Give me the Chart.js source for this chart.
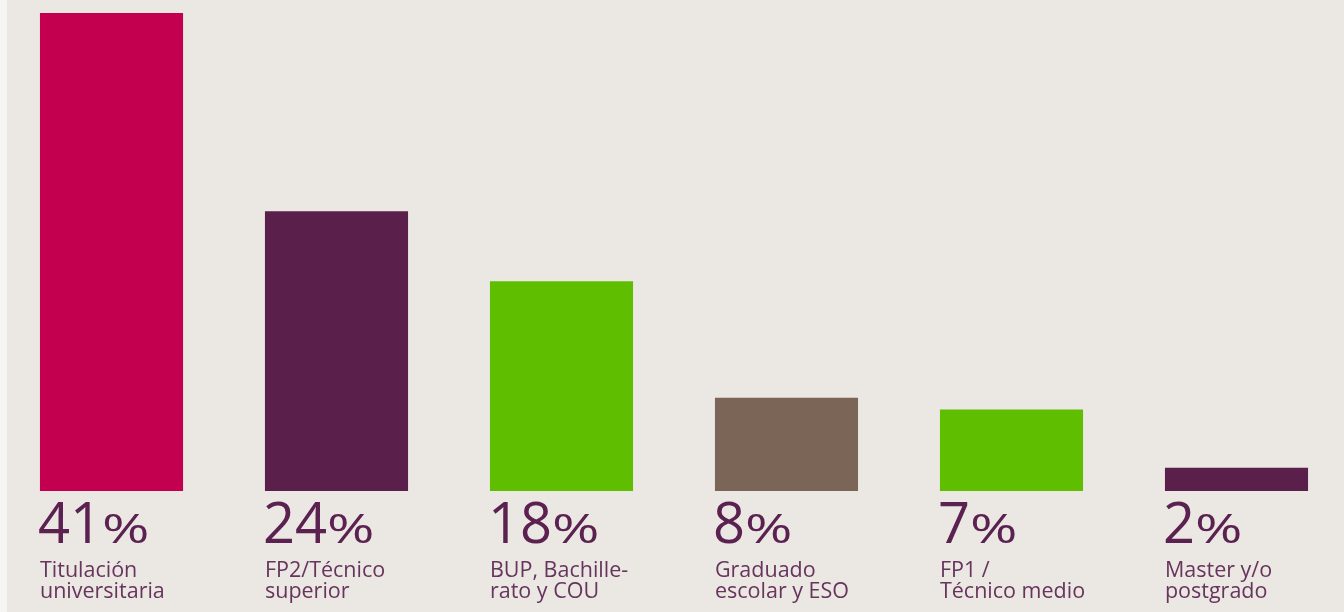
<!DOCTYPE html>
<html>
<head>
<meta charset="utf-8">
<script src="https://cdn.jsdelivr.net/npm/chart.js@4"></script>
<style>
    html, body { margin: 0; padding: 0; background: #fff; }
    #wrap {
        width: 1344px; height: 612px; overflow: hidden;
        background: linear-gradient(to right, #f7f5f3 0px, #f7f5f3 7px, #ebe7e2 7px);
    }
    #eduChart { margin-left: -1px; display: block; }
</style>
</head>
<body>
<div id="wrap"><canvas id="eduChart" width="1350" height="612"></canvas></div>
<script>
// nivel de estudios
var categories = [
    ['Titulación', 'universitaria'],
    ['FP2/Técnico', 'superior'],
    ['BUP, Bachille-', 'rato y COU'],
    ['Graduado', 'escolar y ESO'],
    ['FP1 /', 'Técnico medio'],
    ['Master y/o', 'postgrado']
];
var values = [41, 24, 18, 8, 7, 2];
var barColors = ['#c2004f', '#5b1f4b', '#5fbe00', '#7a6556', '#5fbe00', '#5b1f4b'];

var NUM_COLOR = '#5a2151';
var LABEL_COLOR = '#66345c';

// etiquetas debajo de cada barra
var labelsBelow = {
    id: 'labelsBelow',
    afterDatasetsDraw: function (chart) {
        var ctx = chart.ctx;
        var meta = chart.getDatasetMeta(0);
        var base = chart.chartArea.bottom;
        ctx.save();
        ctx.textBaseline = 'alphabetic';
        ctx.textAlign = 'left';
        meta.data.forEach(function (bar, i) {
            var left = bar.x - bar.width / 2;
            ctx.fillStyle = NUM_COLOR;
            ctx.font = '500 56px "Open Sans"';
            var num = String(values[i]);
            ctx.fillText(num, left - 2, base + 52);
            var w = ctx.measureText(num).width;
            // el % es más bajo y ancho que las cifras
            ctx.save();
            ctx.translate(left + w - 2, base + 52);
            ctx.scale(1.4, 1);
            ctx.font = '500 41px "Open Sans"';
            ctx.fillText('%', 0, 0);
            ctx.restore();

            ctx.fillStyle = LABEL_COLOR;
            ctx.font = '500 21.5px "Open Sans"';
            categories[i].forEach(function (line, j) {
                ctx.fillText(line, left, base + 86 + j * 21);
            });
        });
        ctx.restore();
    }
};

new Chart(document.getElementById('eduChart'), {
    type: 'bar',
    data: {
        labels: categories,
        datasets: [{
            data: values,
            backgroundColor: barColors,
            borderWidth: 0,
            barPercentage: 1,
            categoryPercentage: 0.636
        }]
    },
    options: {
        responsive: false,
        animation: false,
        layout: { padding: { top: 13, bottom: 121, left: 0, right: 0 } },
        plugins: {
            legend: { display: false },
            tooltip: { enabled: false }
        },
        scales: {
            x: { display: false },
            y: { display: false, min: 0, max: 41 }
        }
    },
    plugins: [labelsBelow]
});
</script>
</body>
</html>
